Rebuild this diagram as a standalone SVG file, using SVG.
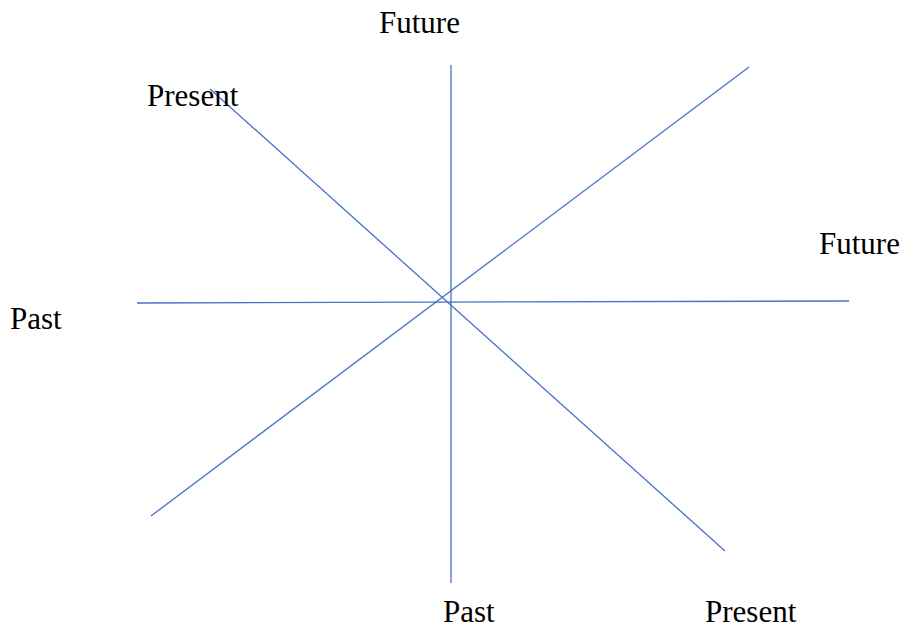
<svg xmlns="http://www.w3.org/2000/svg" width="905" height="627" viewBox="0 0 905 627">
<style>
.axis{stroke:#4472C4;stroke-width:1.3;fill:none}
.lbl{font-family:"Liberation Serif","Times New Roman",serif;font-size:31px;fill:#000}
</style>
<rect width="905" height="627" fill="#fff"/>
<g id="connectors">
<line class="axis" x1="451" y1="65" x2="451" y2="583"/>
<line class="axis" x1="137" y1="303" x2="849" y2="301"/>
<line class="axis" x1="210" y1="89" x2="725" y2="551"/>
<line class="axis" x1="151" y1="516" x2="749" y2="67"/>
</g>
<g id="future-top"><text class="lbl" x="379" y="33">Future</text></g>
<g id="present-top"><text class="lbl" x="147" y="106">Present</text></g>
<g id="future-right"><text class="lbl" x="819" y="254">Future</text></g>
<g id="past-left"><text class="lbl" x="10" y="329">Past</text></g>
<g id="past-bottom"><text class="lbl" x="443" y="622">Past</text></g>
<g id="present-bottom"><text class="lbl" x="705" y="622">Present</text></g>
</svg>
